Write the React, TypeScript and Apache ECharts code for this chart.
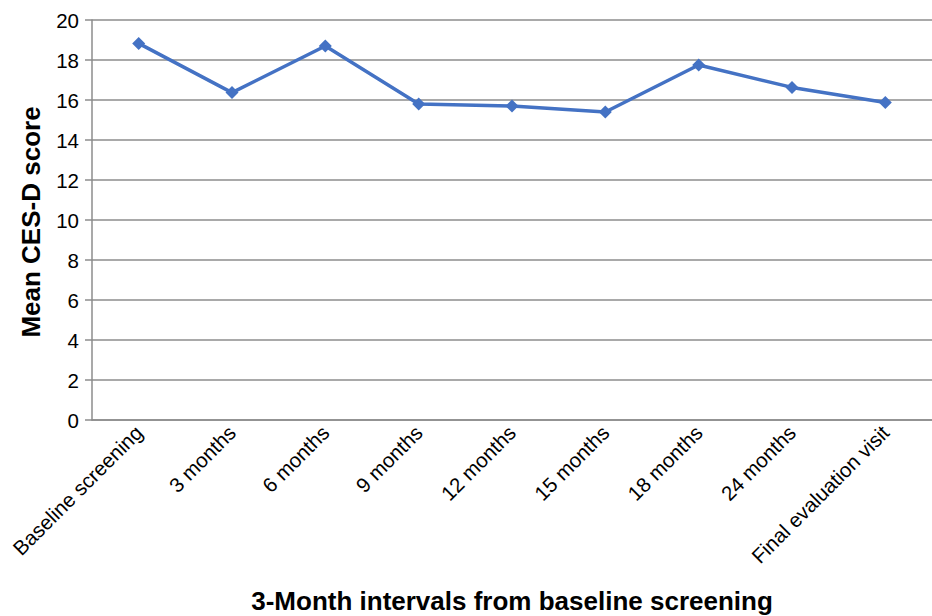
import React, { useEffect, useRef } from "react";
import * as echarts from "echarts";

const categories = [
  "Baseline screening",
  "3 months",
  "6 months",
  "9 months",
  "12 months",
  "15 months",
  "18 months",
  "24 months",
  "Final evaluation visit",
];
const meanScores = [18.83, 16.37, 18.7, 15.8, 15.7, 15.4, 17.75, 16.63, 15.88];
const yAxisTitle = "Mean CES-D score";
const xAxisTitle = "3-Month intervals from baseline screening";

export default function App() {
  const ref = useRef<HTMLDivElement>(null);
  useEffect(() => {
    if (!ref.current) return;
    const chart = echarts.init(ref.current, undefined, { renderer: "svg" });
    const font = "'Liberation Sans', Arial, sans-serif";
    chart.setOption({
      animation: false,
      grid: { left: 92, right: -9.4, top: 20, bottom: 196, containLabel: false },
      xAxis: {
        type: "category",
        data: categories,
        boundaryGap: true,
        axisLine: { show: true, lineStyle: { color: "#8c8c8c", width: 1.5 } },
        axisTick: { show: false },
        axisLabel: {
          rotate: 45,
          interval: 0,
          margin: 9,
          color: "#000",
          fontSize: 20.5,
          fontFamily: font,
        },
        splitLine: { show: false },
      },
      yAxis: {
        type: "value",
        min: 0,
        max: 20,
        interval: 2,
        axisLine: { show: true, lineStyle: { color: "#8c8c8c", width: 1.5 } },
        axisTick: { show: true, length: 7, lineStyle: { color: "#8c8c8c", width: 1.5 } },
        axisLabel: { color: "#000", fontSize: 20.5, fontFamily: font, margin: 13 },
        splitLine: { show: true, lineStyle: { color: "#8c8c8c", width: 1.5 } },
      },
      graphic: [
        {
          type: "text",
          x: 31,
          y: 222,
          rotation: Math.PI / 2,
          style: {
            text: yAxisTitle,
            fill: "#000",
            font: `bold 26px ${font}`,
            textAlign: "center",
            textVerticalAlign: "middle",
          },
        },
        {
          type: "text",
          x: 512,
          y: 601,
          style: {
            text: xAxisTitle,
            fill: "#000",
            font: `bold 26px ${font}`,
            textAlign: "center",
            textVerticalAlign: "middle",
          },
        },
      ],
      series: [
        {
          type: "line",
          data: meanScores,
          symbol: "diamond",
          symbolSize: 13,
          itemStyle: { color: "#4472C4" },
          lineStyle: { color: "#4472C4", width: 3.5 },
        },
      ],
    });
    return () => chart.dispose();
  }, []);
  return (
    <div
      ref={ref}
      style={{ position: "absolute", left: 0, top: 0, width: 932, height: 616, overflow: "hidden" }}
    />
  );
}
